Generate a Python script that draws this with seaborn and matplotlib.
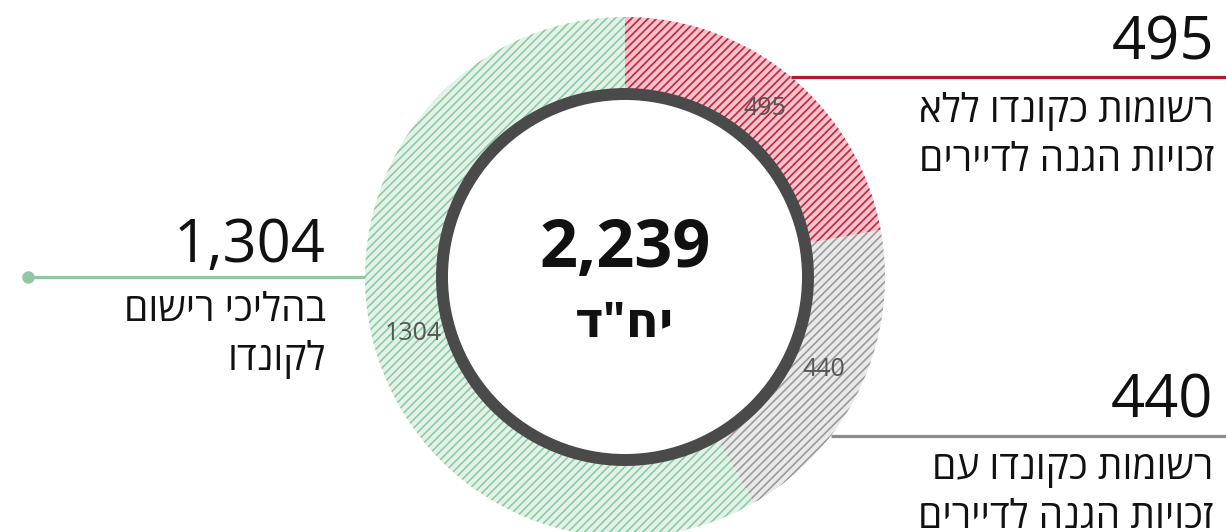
import numpy as np
import matplotlib
matplotlib.use("Agg")
import matplotlib.pyplot as plt
import matplotlib.patches as mpatches
import seaborn as sns

# ─────────────────────────────────────────────
# Data
# ─────────────────────────────────────────────
labels = [
    "רשומות כקונדו ללא\nזכויות הגנה לדיירים",
    "רשומות כקונדו עם\nזכויות הגנה לדיירים",
    "בהליכי רישום\nלקונדו",
]
values = [495, 440, 1304]
unit_label = 'יח"ד'

fill_colors  = ["#f6c3cc", "#e9e9e9", "#e2f2e8"]
hatch_colors = ["#c4243c", "#9b9b9b", "#8fcaa4"]
line_colors  = ["#b5172f", "#8c8c8c", "#93c6a5"]

# ─────────────────────────────────────────────
# Layout (pixels, y measured from bottom)
# ─────────────────────────────────────────────
W, H = 1226, 532
CX, CY = 625, H - 277
R_OUT, WIDTH = 260, 76
R_LABEL = 219
FONT = ["Open Sans", "DejaVu Sans"]
LABEL_FS = 28
BIG_FS = 43


def rtl(s):
    # matplotlib has no bidi support: reverse each line for display
    return "\n".join(line[::-1] for line in s.split("\n"))


sns.set_theme(style="white")
plt.rcParams["font.family"] = FONT
plt.rcParams["hatch.linewidth"] = 1.2

fig = plt.figure(figsize=(W / 100, H / 100), dpi=100)
ax = fig.add_axes([0, 0, 1, 1])

wedges, _ = ax.pie(
    values, center=(CX, CY), radius=R_OUT, startangle=90, counterclock=False,
    colors=fill_colors, wedgeprops=dict(width=WIDTH, linewidth=0),
)
for w, hc in zip(wedges, hatch_colors):
    w.set_hatch("////")
    w.set_edgecolor(hc)
    w.set_linewidth(0)

ax.set_xlim(0, W)
ax.set_ylim(0, H)
ax.set_aspect("equal", adjustable="box")
ax.axis("off")

# values inside wedges
for w, v in zip(wedges, values):
    mid = np.deg2rad((w.theta1 + w.theta2) / 2)
    ax.text(CX + R_LABEL * np.cos(mid), CY + R_LABEL * np.sin(mid), str(v),
            ha="center", va="center", fontsize=18, color="#555555", zorder=3)

# dark inner ring
ring = mpatches.Circle((CX, CY), 183, fill=False, edgecolor="#4a4a4a",
                       linewidth=8.6, zorder=4)
ax.add_patch(ring)

# centre total
ax.text(CX, H - 267, f"{sum(values):,}", ha="center", va="baseline",
        fontsize=48, fontweight="bold", color="#111111")
ax.text(CX, H - 337, rtl(unit_label), ha="center", va="baseline",
        fontsize=35, fontweight="bold", color="#111111")

# ─────────────────────────────────────────────
# Callouts
# ─────────────────────────────────────────────
def edge_x(y_px, side):
    dy = (H - y_px) - CY
    return CX + side * np.sqrt(R_OUT ** 2 - dy ** 2)


def callout(x_right, y_num, y_l1, text, number):
    ax.text(x_right, H - y_num, number, ha="right", va="baseline",
            fontsize=BIG_FS, color="#111111")
    l1, l2 = rtl(text).split("\n")
    ax.text(x_right, H - y_l1, l1, ha="right", va="baseline",
            fontsize=LABEL_FS, color="#111111")
    ax.text(x_right, H - y_l1 - 49, l2, ha="right", va="baseline",
            fontsize=LABEL_FS, color="#111111")


# red (top right)
y_line = 77
ax.plot([edge_x(y_line, 1), W], [H - y_line] * 2, color=line_colors[0], lw=2.3,
        solid_capstyle="butt")
callout(1214, 60, 122, labels[0], f"{values[0]:,}")

# gray (bottom right)
y_line = 436
ax.plot([edge_x(y_line, 1), W], [H - y_line] * 2, color=line_colors[1], lw=2.3,
        solid_capstyle="butt")
callout(1213, 418, 479, labels[1], f"{values[1]:,}")

# green (left)
y_line = 277
ax.plot([28, edge_x(y_line, -1)], [H - y_line] * 2, color=line_colors[2], lw=2.3,
        solid_capstyle="butt")
ax.plot([28], [H - y_line], "o", color=line_colors[2], markersize=8)
callout(326, 262, 321, labels[2], f"{values[2]:,}")

fig.savefig("out.png", dpi=100)
